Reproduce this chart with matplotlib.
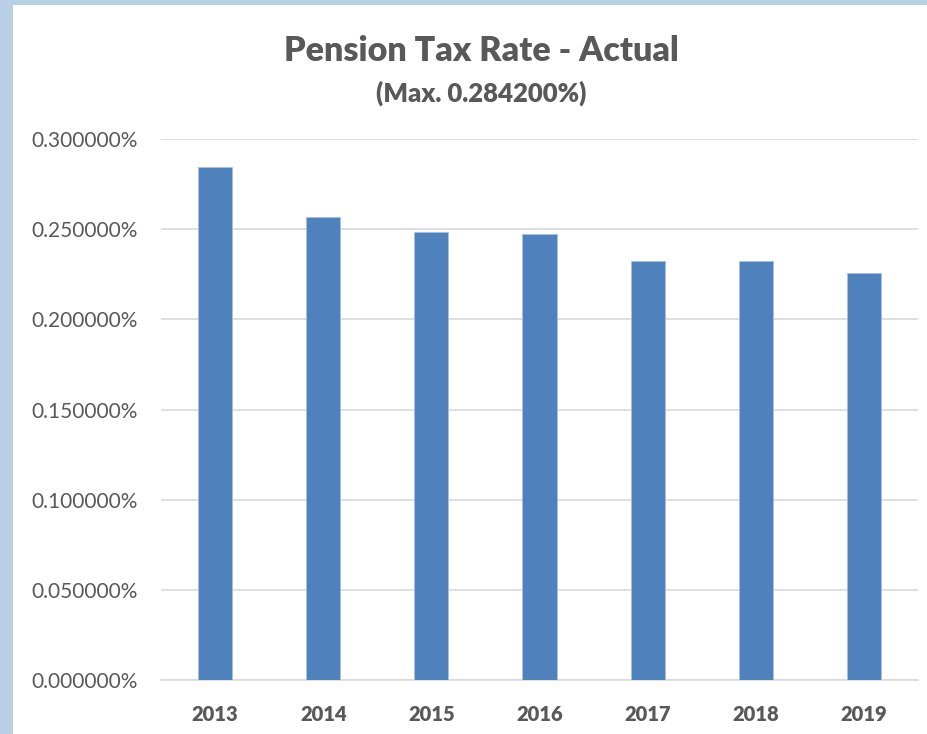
import matplotlib
matplotlib.use("Agg")
import matplotlib.pyplot as plt
from matplotlib.patches import Rectangle
from matplotlib.ticker import FuncFormatter

years = ["2013", "2014", "2015", "2016", "2017", "2018", "2019"]
rates = [0.2842, 0.2566, 0.2483, 0.2475, 0.2324, 0.2322, 0.2257]
y_ticks = [0.0, 0.05, 0.10, 0.15, 0.20, 0.25, 0.30]

TEXT = "#595959"
BAR = "#4F81BD"
plt.rcParams["font.family"] = ["Lato", "DejaVu Sans"]

fig = plt.figure(figsize=(9.28, 7.34), dpi=100)
fig.patch.set_facecolor("white")
# light blue frame on left and top
fig.patches.append(Rectangle((0, 0), 13 / 928, 1, transform=fig.transFigure,
                             facecolor="#B9CFE6", edgecolor="none", zorder=0))
fig.patches.append(Rectangle((0, 1 - 5 / 734), 1, 5 / 734, transform=fig.transFigure,
                             facecolor="#B9CFE6", edgecolor="none", zorder=0))

ax = fig.add_axes([161 / 928, 1 - 680 / 734, 757 / 928, 541 / 734])
x = range(len(years))
ax.bar(x, rates, width=0.315, color=BAR, edgecolor="#A9C1E0", linewidth=0.6, zorder=3)

ax.set_xlim(-0.5, len(years) - 0.5)
ax.set_ylim(0, 0.30)
ax.set_yticks(y_ticks)
ax.yaxis.set_major_formatter(FuncFormatter(lambda v, p: f"{v:.6f}%"))
ax.set_xticks(list(x))
ax.set_xticklabels(years, fontweight="heavy")
ax.grid(axis="y", color="#D9D9D9", linewidth=1.2, zorder=0)
for s in ["top", "right", "left"]:
    ax.spines[s].set_visible(False)
ax.spines["bottom"].set_color("#D9D9D9")
ax.spines["bottom"].set_linewidth(1.2)
ax.tick_params(axis="both", length=0, colors=TEXT)
ax.tick_params(axis="x", pad=18, labelsize=14.5)
ax.tick_params(axis="y", pad=17, labelsize=15)

fig.text(481 / 928, 1 - 51 / 734, "Pension Tax Rate - Actual", ha="center", va="center",
         fontsize=24.5, fontweight="heavy", color=TEXT)
fig.text(481 / 928, 1 - 93 / 734, "(Max. 0.284200%)", ha="center", va="center",
         fontsize=18.5, fontweight="heavy", color=TEXT)

fig.savefig("out.png", dpi=100)
